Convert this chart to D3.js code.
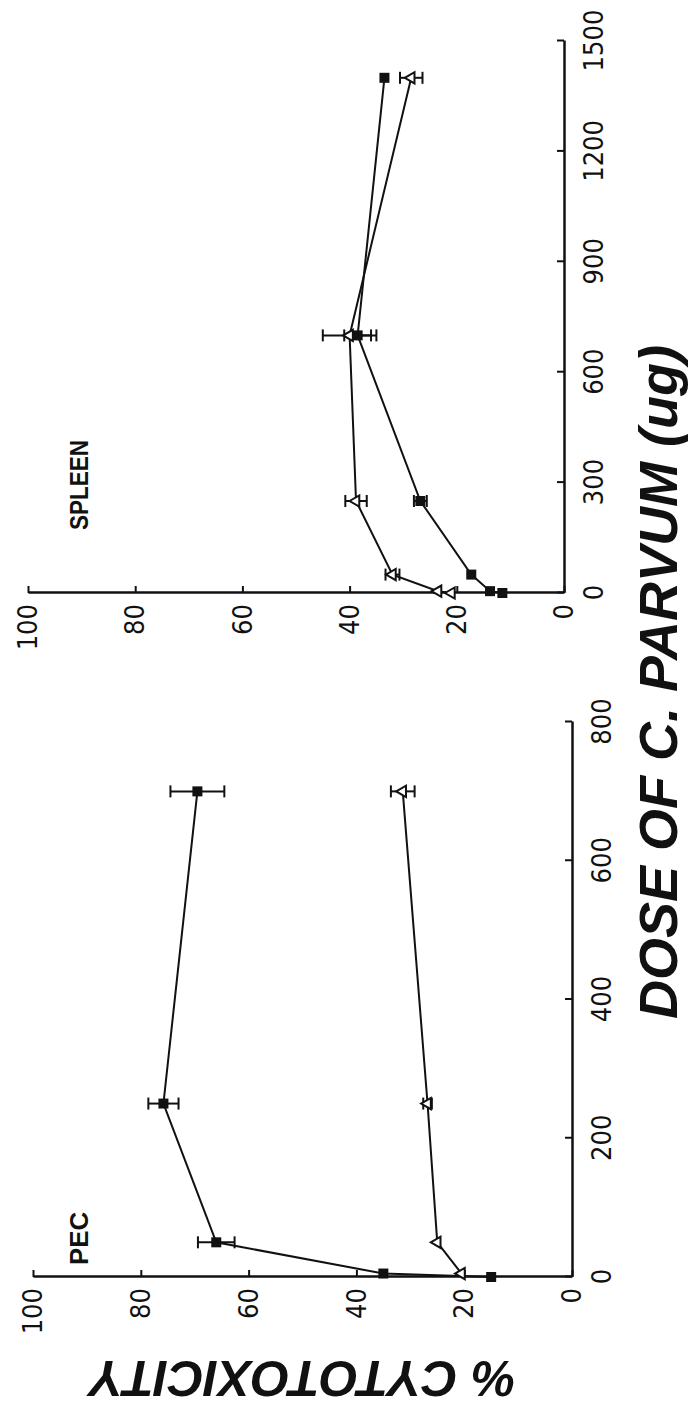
<!DOCTYPE html>
<html>
<head>
<meta charset="utf-8">
<script src="https://cdn.jsdelivr.net/npm/d3@7"></script>
<style>
  body { margin: 0; background: #fff; }
  svg { display: block; }
</style>
</head>
<body>
<svg id="chart"></svg>
<script>
// ---------- data ----------
let cytoTicks = [0, 20, 40, 60, 80, 100]
let pecDoseTicks = [0, 200, 400, 600, 800]
let splDoseTicks = [0, 300, 600, 900, 1200, 1500]

// PEC panel
let pecSqDose = [0, 5, 50, 250, 700]
let pecSqVal = [15, 35, 66, 75.8, 69.5]
let pecSqErr = [0, 0, 3.4, 2.8, 5]
let pecTriDose = [5, 50, 250, 700]
let pecTriVal = [20.5, 25, 26.8, 31.4]
let pecTriErr = [0, 0, 0.8, 2.2]

// SPLEEN panel
let splSqDose = [0, 5, 50, 250, 700, 1400]
let splSqVal = [11.5, 13.8, 17.3, 26.8, 38.5, 33.5]
let splSqErr = [0, 0, 0, 1.2, 2.5, 0]
let splTriDose = [0, 5, 50, 250, 700, 1400]
let splTriVal = [21, 23.5, 32, 38.8, 40, 28.5]
let splTriErr = [0, 0, 1.3, 2, 5, 2.1]

// ---------- page ----------
let pageW = 691
let pageH = 1408

let svg = d3.select('#chart')
  .attr('width', pageW)
  .attr('height', pageH)

svg.append('rect').attr('width', pageW).attr('height', pageH).attr('fill', '#fff')

// the whole figure is printed turned a quarter turn, so draw it flat and rotate
let g = svg.append('g')
  .attr('transform', `translate(0,${pageH}) rotate(-90)`)

let tickFont = '"Liberation Sans Narrow", "DejaVu Sans Condensed", "Liberation Sans", sans-serif'
let boldFont = '"Liberation Sans", Arial, Helvetica, sans-serif'

function zip(d, v, e) {
  return d.map((x, i) => ({dose: x, val: v[i], err: e[i]}))
}

function drawPanel(opt) {
  let x = d3.scaleLinear().domain(opt.xDomain).range(opt.xRange)
  let y = d3.scaleLinear().domain([0, 100]).range(opt.yRange)

  let p = g.append('g').attr('class', 'panel')

  let xAx = p.append('g')
    .attr('transform', `translate(0,${y(0)})`)
    .call(d3.axisBottom(x).tickValues(opt.xTicks).tickFormat(d3.format('d'))
      .tickSizeInner(-7).tickSizeOuter(0).tickPadding(20))
  let yAx = p.append('g')
    .attr('transform', `translate(${x(0)},0)`)
    .call(d3.axisLeft(y).tickValues(cytoTicks).tickFormat(d3.format('d'))
      .tickSizeInner(-7).tickSizeOuter(0).tickPadding(11))

  ;[xAx, yAx].forEach(a => {
    a.select('.domain').attr('stroke', '#111').attr('stroke-width', 2.5)
    a.selectAll('.tick line').attr('stroke', '#111').attr('stroke-width', 2)
    a.selectAll('.tick text')
      .attr('font-family', tickFont)
      .attr('font-stretch', 'condensed')
      .attr('font-size', 27)
      .attr('fill', '#111')
  })

  let line = d3.line().x(d => x(d.dose)).y(d => y(d.val))

  opt.series.forEach(s => {
    p.append('path')
      .datum(s.data)
      .attr('d', line)
      .attr('fill', 'none')
      .attr('stroke', '#111')
      .attr('stroke-width', 2)
  })

  opt.series.forEach(s => {
    let bars = p.append('g').selectAll('g').data(s.data.filter(d => d.err > 0)).enter().append('g')
    bars.append('line')
      .attr('x1', d => x(d.dose)).attr('x2', d => x(d.dose))
      .attr('y1', d => y(d.val - d.err)).attr('y2', d => y(d.val + d.err))
    bars.append('line')
      .attr('x1', d => x(d.dose) - 6).attr('x2', d => x(d.dose) + 6)
      .attr('y1', d => y(d.val - d.err)).attr('y2', d => y(d.val - d.err))
    bars.append('line')
      .attr('x1', d => x(d.dose) - 6).attr('x2', d => x(d.dose) + 6)
      .attr('y1', d => y(d.val + d.err)).attr('y2', d => y(d.val + d.err))
    bars.selectAll('line').attr('stroke', '#111').attr('stroke-width', 2)

    if (s.shape == 'square') {
      p.append('g').selectAll('rect').data(s.data).enter().append('rect')
        .attr('x', d => x(d.dose) - 5)
        .attr('y', d => y(d.val) - 5)
        .attr('width', 10).attr('height', 10)
        .attr('fill', '#111')
    } else {
      p.append('g').selectAll('path').data(s.data).enter().append('path')
        .attr('d', d3.symbol(d3.symbolTriangle).size(55))
        .attr('transform', d => `translate(${x(d.dose)},${y(d.val)})`)
        .attr('fill', '#fff')
        .attr('stroke', '#111')
        .attr('stroke-width', 2)
    }
  })

  p.append('text')
    .attr('x', x(0) + opt.labelDx)
    .attr('y', 88)
    .attr('font-family', boldFont)
    .attr('font-weight', 'bold')
    .attr('font-size', 26)
    .attr('textLength', opt.labelLen)
    .attr('lengthAdjust', 'spacingAndGlyphs')
    .attr('fill', '#111')
    .text(opt.label)
}

drawPanel({
  xDomain: [0, 800], xRange: [131, 686], yRange: [572, 33],
  xTicks: pecDoseTicks, label: 'PEC', labelDx: 12, labelLen: 53,
  series: [
    {shape: 'square', data: zip(pecSqDose, pecSqVal, pecSqErr)},
    {shape: 'triangle', data: zip(pecTriDose, pecTriVal, pecTriErr)}
  ]
})

drawPanel({
  xDomain: [0, 1500], xRange: [815, 1367], yRange: [564, 28],
  xTicks: splDoseTicks, label: 'SPLEEN', labelDx: 63, labelLen: 90,
  series: [
    {shape: 'square', data: zip(splSqDose, splSqVal, splSqErr)},
    {shape: 'triangle', data: zip(splTriDose, splTriVal, splTriErr)}
  ]
})

// axis titles
g.append('text')
  .attr('transform', 'translate(30,303) rotate(-90)')
  .attr('text-anchor', 'middle')
  .attr('dy', '0.35em')
  .attr('font-family', boldFont)
  .attr('font-weight', 'bold')
  .attr('font-style', 'italic')
  .attr('font-size', 50)
  .attr('fill', '#111')
  .text('% CYTOTOXICITY')

g.append('text')
  .attr('x', 726)
  .attr('y', 677)
  .attr('text-anchor', 'middle')
  .attr('font-family', boldFont)
  .attr('font-weight', 'bold')
  .attr('font-style', 'italic')
  .attr('font-size', 54)
  .attr('fill', '#111')
  .text('DOSE OF C. PARVUM (ug)')
</script>
</body>
</html>
